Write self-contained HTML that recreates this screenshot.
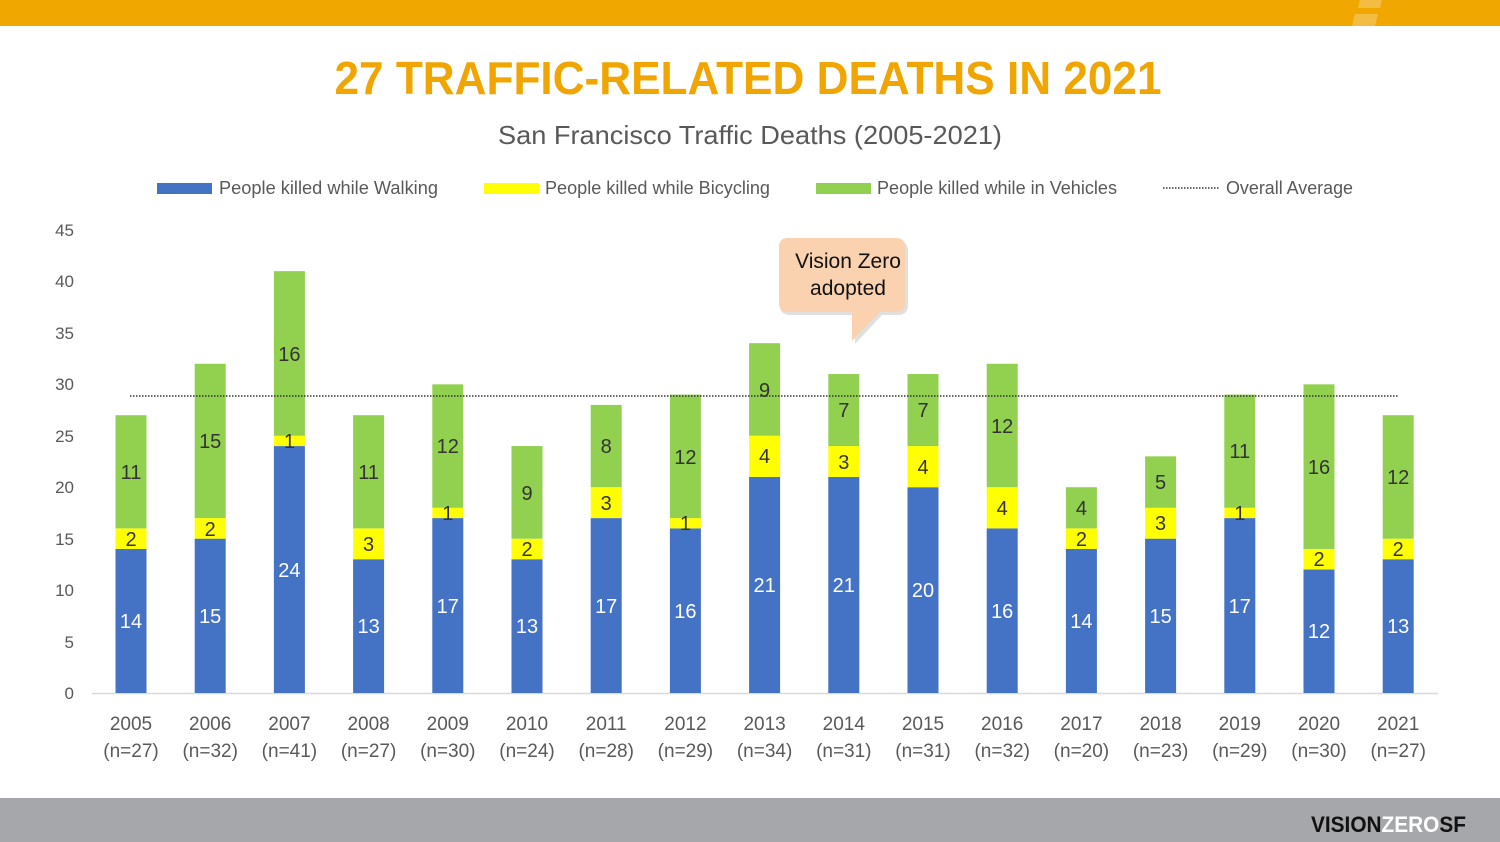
<!DOCTYPE html>
<html><head><meta charset="utf-8"><style>
html,body{margin:0;padding:0;background:#fff;}
svg{display:block;}
text{font-family:"Liberation Sans",sans-serif;}
</style></head><body>
<svg width="1500" height="842" viewBox="0 0 1500 842" xmlns="http://www.w3.org/2000/svg">
<rect x="0" y="0" width="1500" height="842" fill="#fff"/>
<rect x="0" y="0" width="1500" height="26" fill="#F0A800"/>
<polygon points="1352,26 1375,26 1378,14 1355,14" fill="#F4C255" opacity="0.8"/>
<polygon points="1358,8 1380,8 1382,0 1360,0" fill="#F4C255" opacity="0.8"/>
<rect x="0" y="798" width="1500" height="44" fill="#A6A7AB"/>
<text x="1311" y="832" font-size="22" font-weight="bold" fill="#111" textLength="155" lengthAdjust="spacingAndGlyphs">VISION<tspan fill="#fff">ZERO</tspan>SF</text>

<text x="748" y="94" font-size="46" font-weight="bold" fill="#F0A500" text-anchor="middle" textLength="827" lengthAdjust="spacingAndGlyphs">27 TRAFFIC-RELATED DEATHS IN 2021</text>
<text x="750" y="144" font-size="26" fill="#595959" text-anchor="middle" textLength="504" lengthAdjust="spacingAndGlyphs">San Francisco Traffic Deaths (2005-2021)</text>

<!-- legend -->
<g font-size="18" fill="#595959">
<rect x="157" y="183" width="55" height="11" fill="#4472C4"/>
<text x="219" y="194" textLength="219" lengthAdjust="spacingAndGlyphs">People killed while Walking</text>
<rect x="484" y="183" width="55" height="11" fill="#FFFF00"/>
<text x="545" y="194" textLength="225" lengthAdjust="spacingAndGlyphs">People killed while Bicycling</text>
<rect x="816" y="183" width="55" height="11" fill="#92D050"/>
<text x="877" y="194" textLength="240" lengthAdjust="spacingAndGlyphs">People killed while in Vehicles</text>
<line x1="1163" y1="188" x2="1220" y2="188" stroke="#333" stroke-width="1.5" stroke-dasharray="1.5,1.5"/>
<text x="1226" y="194" textLength="127" lengthAdjust="spacingAndGlyphs">Overall Average</text>
</g>

<!-- y axis labels -->
<g font-size="17" fill="#595959" text-anchor="end">
<text x="74" y="699">0</text>
<text x="74" y="648">5</text>
<text x="74" y="596">10</text>
<text x="74" y="545">15</text>
<text x="74" y="493">20</text>
<text x="74" y="442">25</text>
<text x="74" y="390">30</text>
<text x="74" y="339">35</text>
<text x="74" y="287">40</text>
<text x="74" y="236">45</text>
</g>
<line x1="92" y1="693.5" x2="1438" y2="693.5" stroke="#D9D9D9" stroke-width="1.5"/>

<!-- bars -->
<g>
<!-- 2005 -->
<rect x="115.5" y="548.95" width="31" height="144.05" fill="#4472C4"/>
<rect x="115.5" y="528.38" width="31" height="20.57" fill="#FFFF00"/>
<rect x="115.5" y="415.2" width="31" height="113.18" fill="#92D050"/>
<!-- 2006 -->
<rect x="194.7" y="538.66" width="31" height="154.34" fill="#4472C4"/>
<rect x="194.7" y="518.09" width="31" height="20.57" fill="#FFFF00"/>
<rect x="194.7" y="363.75" width="31" height="154.34" fill="#92D050"/>
<!-- 2007 -->
<rect x="273.9" y="446.06" width="31" height="246.94" fill="#4472C4"/>
<rect x="273.9" y="435.78" width="31" height="10.29" fill="#FFFF00"/>
<rect x="273.9" y="271.15" width="31" height="164.63" fill="#92D050"/>
<!-- 2008 -->
<rect x="353.1" y="559.24" width="31" height="133.76" fill="#4472C4"/>
<rect x="353.1" y="528.38" width="31" height="30.87" fill="#FFFF00"/>
<rect x="353.1" y="415.2" width="31" height="113.18" fill="#92D050"/>
<!-- 2009 -->
<rect x="432.3" y="518.09" width="31" height="174.91" fill="#4472C4"/>
<rect x="432.3" y="507.8" width="31" height="10.29" fill="#FFFF00"/>
<rect x="432.3" y="384.33" width="31" height="123.47" fill="#92D050"/>
<!-- 2010 -->
<rect x="511.5" y="559.24" width="31" height="133.76" fill="#4472C4"/>
<rect x="511.5" y="538.66" width="31" height="20.58" fill="#FFFF00"/>
<rect x="511.5" y="446.06" width="31" height="92.6" fill="#92D050"/>
<!-- 2011 -->
<rect x="590.7" y="518.09" width="31" height="174.91" fill="#4472C4"/>
<rect x="590.7" y="487.22" width="31" height="30.87" fill="#FFFF00"/>
<rect x="590.7" y="404.91" width="31" height="82.31" fill="#92D050"/>
<!-- 2012 -->
<rect x="669.9" y="528.38" width="31" height="164.62" fill="#4472C4"/>
<rect x="669.9" y="518.09" width="31" height="10.29" fill="#FFFF00"/>
<rect x="669.9" y="394.62" width="31" height="123.47" fill="#92D050"/>
<!-- 2013 -->
<rect x="749.1" y="476.93" width="31" height="216.07" fill="#4472C4"/>
<rect x="749.1" y="435.78" width="31" height="41.15" fill="#FFFF00"/>
<rect x="749.1" y="343.17" width="31" height="92.61" fill="#92D050"/>
<!-- 2014 -->
<rect x="828.3" y="476.93" width="31" height="216.07" fill="#4472C4"/>
<rect x="828.3" y="446.06" width="31" height="30.87" fill="#FFFF00"/>
<rect x="828.3" y="374.04" width="31" height="72.02" fill="#92D050"/>
<!-- 2015 -->
<rect x="907.5" y="487.22" width="31" height="205.78" fill="#4472C4"/>
<rect x="907.5" y="446.06" width="31" height="41.16" fill="#FFFF00"/>
<rect x="907.5" y="374.04" width="31" height="72.02" fill="#92D050"/>
<!-- 2016 -->
<rect x="986.7" y="528.38" width="31" height="164.62" fill="#4472C4"/>
<rect x="986.7" y="487.22" width="31" height="41.16" fill="#FFFF00"/>
<rect x="986.7" y="363.75" width="31" height="123.47" fill="#92D050"/>
<!-- 2017 -->
<rect x="1065.9" y="548.95" width="31" height="144.05" fill="#4472C4"/>
<rect x="1065.9" y="528.38" width="31" height="20.57" fill="#FFFF00"/>
<rect x="1065.9" y="487.22" width="31" height="41.16" fill="#92D050"/>
<!-- 2018 -->
<rect x="1145.1" y="538.66" width="31" height="154.34" fill="#4472C4"/>
<rect x="1145.1" y="507.8" width="31" height="30.86" fill="#FFFF00"/>
<rect x="1145.1" y="456.35" width="31" height="51.45" fill="#92D050"/>
<!-- 2019 -->
<rect x="1224.3" y="518.09" width="31" height="174.91" fill="#4472C4"/>
<rect x="1224.3" y="507.8" width="31" height="10.29" fill="#FFFF00"/>
<rect x="1224.3" y="394.62" width="31" height="113.18" fill="#92D050"/>
<!-- 2020 -->
<rect x="1303.5" y="569.53" width="31" height="123.47" fill="#4472C4"/>
<rect x="1303.5" y="548.95" width="31" height="20.58" fill="#FFFF00"/>
<rect x="1303.5" y="384.33" width="31" height="164.62" fill="#92D050"/>
<!-- 2021 -->
<rect x="1382.7" y="559.24" width="31" height="133.76" fill="#4472C4"/>
<rect x="1382.7" y="538.66" width="31" height="20.58" fill="#FFFF00"/>
<rect x="1382.7" y="415.2" width="31" height="123.46" fill="#92D050"/>
</g>

<!-- average line -->
<line x1="130" y1="396" x2="1398" y2="396" stroke="#333" stroke-width="1.6" stroke-dasharray="1.5,1.5"/>

<!-- walking labels -->
<g font-size="20" fill="#fff" text-anchor="middle">
<text x="131" y="628">14</text>
<text x="210.2" y="623">15</text>
<text x="289.4" y="577">24</text>
<text x="368.6" y="633">13</text>
<text x="447.8" y="613">17</text>
<text x="527" y="633">13</text>
<text x="606.2" y="613">17</text>
<text x="685.4" y="618">16</text>
<text x="764.6" y="592">21</text>
<text x="843.8" y="592">21</text>
<text x="923" y="597">20</text>
<text x="1002.2" y="618">16</text>
<text x="1081.4" y="628">14</text>
<text x="1160.6" y="623">15</text>
<text x="1239.8" y="613">17</text>
<text x="1319" y="638">12</text>
<text x="1398.2" y="633">13</text>
</g>
<!-- bike labels -->
<g font-size="20" fill="#333" text-anchor="middle">
<text x="131" y="546">2</text>
<text x="210.2" y="536">2</text>
<text x="289.4" y="448">1</text>
<text x="368.6" y="551">3</text>
<text x="447.8" y="520">1</text>
<text x="527" y="556">2</text>
<text x="606.2" y="510">3</text>
<text x="685.4" y="530">1</text>
<text x="764.6" y="463">4</text>
<text x="843.8" y="469">3</text>
<text x="923" y="474">4</text>
<text x="1002.2" y="515">4</text>
<text x="1081.4" y="546">2</text>
<text x="1160.6" y="530">3</text>
<text x="1239.8" y="520">1</text>
<text x="1319" y="566">2</text>
<text x="1398.2" y="556">2</text>
</g>
<!-- vehicle labels -->
<g font-size="20" fill="#333" text-anchor="middle">
<text x="131" y="479">11</text>
<text x="210.2" y="448">15</text>
<text x="289.4" y="361">16</text>
<text x="368.6" y="479">11</text>
<text x="447.8" y="453">12</text>
<text x="527" y="500">9</text>
<text x="606.2" y="453">8</text>
<text x="685.4" y="464">12</text>
<text x="764.6" y="397">9</text>
<text x="843.8" y="417">7</text>
<text x="923" y="417">7</text>
<text x="1002.2" y="433">12</text>
<text x="1081.4" y="515">4</text>
<text x="1160.6" y="489">5</text>
<text x="1239.8" y="458">11</text>
<text x="1319" y="474">16</text>
<text x="1398.2" y="484">12</text>
</g>

<!-- x labels -->
<g font-size="19" fill="#595959" text-anchor="middle">
<text x="131" y="730">2005</text><text x="131" y="757">(n=27)</text>
<text x="210.2" y="730">2006</text><text x="210.2" y="757">(n=32)</text>
<text x="289.4" y="730">2007</text><text x="289.4" y="757">(n=41)</text>
<text x="368.6" y="730">2008</text><text x="368.6" y="757">(n=27)</text>
<text x="447.8" y="730">2009</text><text x="447.8" y="757">(n=30)</text>
<text x="527" y="730">2010</text><text x="527" y="757">(n=24)</text>
<text x="606.2" y="730">2011</text><text x="606.2" y="757">(n=28)</text>
<text x="685.4" y="730">2012</text><text x="685.4" y="757">(n=29)</text>
<text x="764.6" y="730">2013</text><text x="764.6" y="757">(n=34)</text>
<text x="843.8" y="730">2014</text><text x="843.8" y="757">(n=31)</text>
<text x="923" y="730">2015</text><text x="923" y="757">(n=31)</text>
<text x="1002.2" y="730">2016</text><text x="1002.2" y="757">(n=32)</text>
<text x="1081.4" y="730">2017</text><text x="1081.4" y="757">(n=20)</text>
<text x="1160.6" y="730">2018</text><text x="1160.6" y="757">(n=23)</text>
<text x="1239.8" y="730">2019</text><text x="1239.8" y="757">(n=29)</text>
<text x="1319" y="730">2020</text><text x="1319" y="757">(n=30)</text>
<text x="1398.2" y="730">2021</text><text x="1398.2" y="757">(n=27)</text>
</g>

<!-- callout -->
<path d="M790,241 L898,241 Q908,241 908,251 L908,305 Q908,315 898,315 L882,315 L855,344 L855,315 L790,315 Q780,315 780,305 L780,251 Q780,241 790,241 Z" fill="#000" opacity="0.12"/>
<path d="M788,238 L896,238 Q905,238 905,247 L905,303 Q905,312 896,312 L880,312 L852,341 L852,312 L788,312 Q779,312 779,303 L779,247 Q779,238 788,238 Z" fill="#FAD2B0"/>
<g font-size="21" fill="#111" text-anchor="middle">
<text x="848" y="268">Vision Zero</text>
<text x="848" y="295">adopted</text>
</g>
</svg>
</body></html>
